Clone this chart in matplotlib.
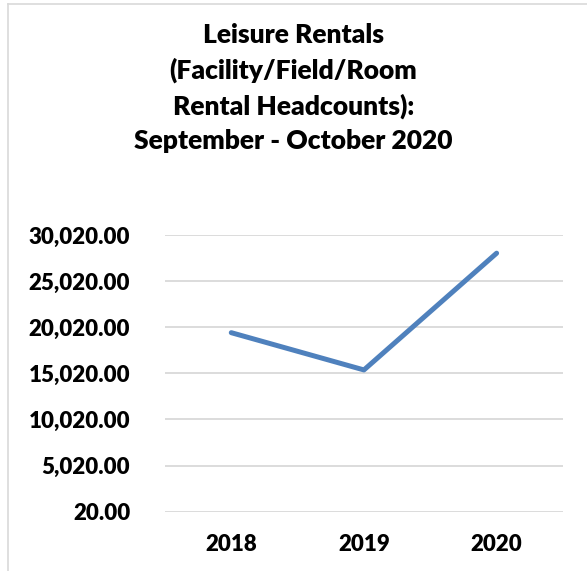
import matplotlib.pyplot as plt
from matplotlib.ticker import FuncFormatter

years = ['2018', '2019', '2020']
headcounts = [19430, 15390, 28050]
y_ticks = [20, 5020, 10020, 15020, 20020, 25020, 30020]
title = 'Leisure Rentals\n(Facility/Field/Room\nRental Headcounts):\nSeptember - October 2020'

plt.rcParams['font.family'] = ['Lato', 'DejaVu Sans']

fig = plt.figure(figsize=(5.87, 5.71), dpi=100)
ax = fig.add_axes([0.281, 0.1039, 0.678, 0.4845])

x = range(len(years))
ax.plot(x, headcounts, color='#4F81BD', linewidth=3.6, solid_capstyle='round',
        solid_joinstyle='round')

ax.set_xlim(-0.5, len(years) - 0.5)
ax.set_ylim(y_ticks[0], y_ticks[-1])
ax.set_xticks(list(x))
ax.set_xticklabels(years)
ax.set_yticks(y_ticks)
ax.yaxis.set_major_formatter(FuncFormatter(lambda v, p: f'{v:,.2f}'))
ax.grid(axis='y', color='#D9D9D9', linewidth=1.3)
ax.set_axisbelow(True)
for s in ax.spines.values():
    s.set_visible(False)
ax.tick_params(length=0, labelsize=16)
ax.tick_params(axis='y', pad=25)
ax.tick_params(axis='x', pad=16)
for lab in ax.get_xticklabels() + ax.get_yticklabels():
    lab.set_fontweight('heavy')

fig.text(0.5, 1 - 23 / 571, title, ha='center', va='top', fontsize=19, fontweight='heavy',
         linespacing=1.5)

# chart border (only top/left visible in the crop)
fig.add_artist(plt.Line2D([8 / 587, 8 / 587], [0, 1 - 4 / 571], transform=fig.transFigure,
                          color='#D9D9D9', linewidth=1.2))
fig.add_artist(plt.Line2D([8 / 587, 1], [1 - 4 / 571, 1 - 4 / 571], transform=fig.transFigure,
                          color='#D9D9D9', linewidth=1.2))

fig.savefig('out.png', dpi=100)
